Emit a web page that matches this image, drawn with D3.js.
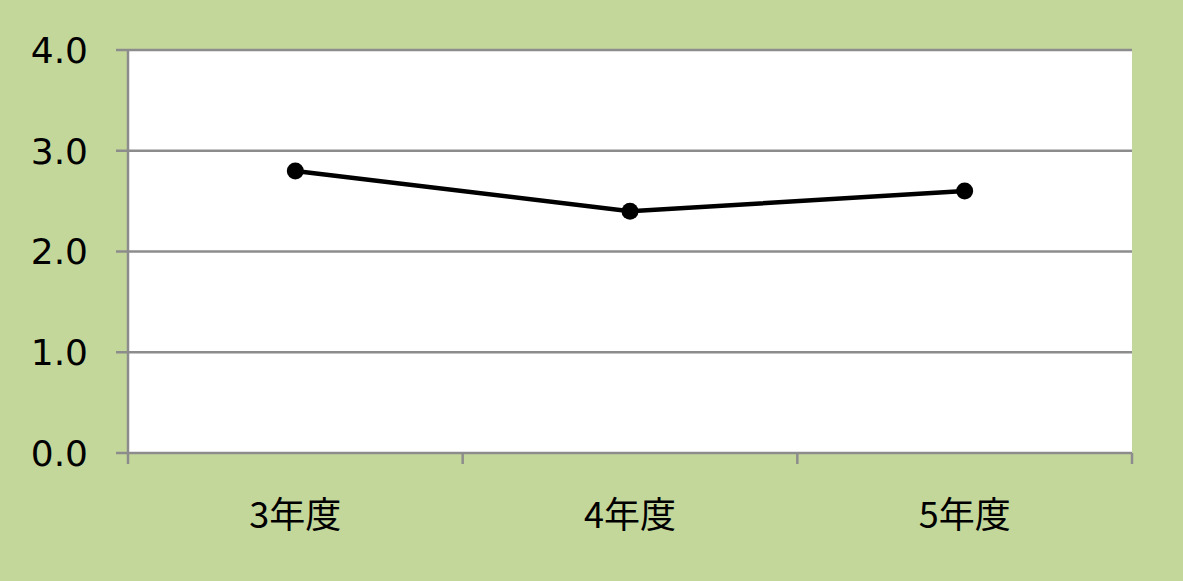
<!DOCTYPE html>
<html>
<head>
<meta charset="utf-8">
<script src="https://cdn.jsdelivr.net/npm/d3@7"></script>
<style>
  html, body { margin: 0; padding: 0; background: #c4d79b; }
  svg { display: block; }
</style>
</head>
<body>
<script>
// Data
const categories = ["3年度", "4年度", "5年度"];
const values = [2.8, 2.4, 2.6];
const yTicks = [0, 1, 2, 3, 4];

const width = 1183;
const height = 581;
const margin = { top: 50, right: 51, bottom: 128, left: 128 };

const svg = d3.select("body")
    .append("svg")
    .attr("width", width)
    .attr("height", height);

svg.append("rect")
    .attr("width", width)
    .attr("height", height)
    .attr("fill", "#c4d79b");

const x = d3.scaleBand()
    .domain(categories)
    .range([margin.left, width - margin.right]);

const y = d3.scaleLinear()
    .domain([0, 4])
    .range([height - margin.bottom, margin.top]);

// Plot area
svg.append("rect")
    .attr("x", margin.left)
    .attr("y", margin.top)
    .attr("width", width - margin.left - margin.right)
    .attr("height", height - margin.top - margin.bottom)
    .attr("fill", "#ffffff");

const gridColor = "#8c8c8c";

// Horizontal gridlines with tick marks extending left
svg.append("g")
    .selectAll("line")
    .data(yTicks)
    .enter()
    .append("line")
    .attr("x1", margin.left - 12)
    .attr("x2", width - margin.right)
    .attr("y1", d => y(d))
    .attr("y2", d => y(d))
    .attr("stroke", gridColor)
    .attr("stroke-width", 2.5);

// Y axis line
svg.append("line")
    .attr("x1", margin.left)
    .attr("x2", margin.left)
    .attr("y1", margin.top)
    .attr("y2", y(0))
    .attr("stroke", gridColor)
    .attr("stroke-width", 2.5);

// Y tick labels
svg.append("g")
    .selectAll("text")
    .data(yTicks)
    .enter()
    .append("text")
    .attr("x", 88)
    .attr("y", d => y(d))
    .attr("dy", "0.36em")
    .attr("text-anchor", "end")
    .attr("font-family", "'DejaVu Sans', Verdana, sans-serif")
    .attr("font-size", 36)
    .attr("fill", "#000")
    .text(d => d.toFixed(1));

// X tick marks at band boundaries
const xBounds = categories.map(c => x(c)).concat([x(categories[categories.length - 1]) + x.bandwidth()]);
svg.append("g")
    .selectAll("line")
    .data(xBounds)
    .enter()
    .append("line")
    .attr("x1", d => d)
    .attr("x2", d => d)
    .attr("y1", y(0))
    .attr("y2", y(0) + 11)
    .attr("stroke", gridColor)
    .attr("stroke-width", 2.5);

// X labels
svg.append("g")
    .selectAll("text")
    .data(categories)
    .enter()
    .append("text")
    .attr("x", d => x(d) + x.bandwidth() / 2)
    .attr("y", 528)
    .attr("text-anchor", "middle")
    .attr("font-family", "'Noto Sans CJK JP', sans-serif")
    .attr("font-size", 36)
    .attr("fill", "#000")
    .text(d => d);

// Line
const line = d3.line()
    .x((d, i) => x(categories[i]) + x.bandwidth() / 2)
    .y(d => y(d));

svg.append("path")
    .datum(values)
    .attr("d", line)
    .attr("fill", "none")
    .attr("stroke", "#000")
    .attr("stroke-width", 4.5);

svg.append("g")
    .selectAll("circle")
    .data(values)
    .enter()
    .append("circle")
    .attr("cx", (d, i) => x(categories[i]) + x.bandwidth() / 2)
    .attr("cy", d => y(d))
    .attr("r", 8.5)
    .attr("fill", "#000");
</script>
</body>
</html>
